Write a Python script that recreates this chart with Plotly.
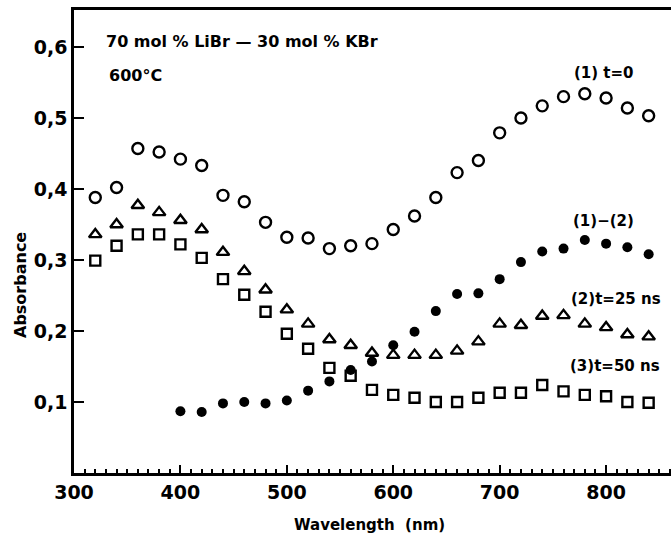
import plotly.graph_objects as go

wavelength = [320, 340, 360, 380, 400, 420, 440, 460, 480, 500, 520, 540, 560, 580,
              600, 620, 640, 660, 680, 700, 720, 740, 760, 780, 800, 820, 840]
t0 = [0.388, 0.402, 0.457, 0.452, 0.442, 0.433, 0.391, 0.382, 0.353, 0.332, 0.331, 0.316,
      0.320, 0.323, 0.343, 0.362, 0.388, 0.423, 0.440, 0.479, 0.500, 0.517, 0.530, 0.534,
      0.528, 0.514, 0.503]
t25 = [0.336, 0.350, 0.377, 0.367, 0.356, 0.343, 0.311, 0.284, 0.258, 0.230, 0.210, 0.188,
       0.180, 0.169, 0.166, 0.166, 0.166, 0.172, 0.185, 0.210, 0.208, 0.221, 0.222, 0.210,
       0.205, 0.195, 0.192]
t50 = [0.299, 0.320, 0.336, 0.336, 0.322, 0.303, 0.273, 0.251, 0.227, 0.196, 0.175, 0.148,
       0.137, 0.117, 0.110, 0.106, 0.100, 0.100, 0.106, 0.113, 0.113, 0.124, 0.115, 0.110,
       0.108, 0.100, 0.099]
diff_wl = [400, 420, 440, 460, 480, 500, 520, 540, 560, 580, 600, 620, 640, 660, 680, 700,
           720, 740, 760, 780, 800, 820, 840]
diff = [0.087, 0.086, 0.098, 0.100, 0.098, 0.102, 0.116, 0.129, 0.145, 0.157, 0.180, 0.199,
        0.228, 0.252, 0.253, 0.273, 0.297, 0.312, 0.316, 0.328, 0.323, 0.318, 0.308]

x_ticks = [300, 400, 500, 600, 700, 800]
y_ticks = [0.1, 0.2, 0.3, 0.4, 0.5, 0.6]

FONT = "DejaVu Sans"
W, H = 671, 541
L, R, T, B = 74, 0, 10, 68
PW, PH = W - L - R, H - T - B


def px(x):
    return (x - L) / PW


def py(y):
    return 1 - (y - T) / PH


fig = go.Figure()
fig.add_trace(go.Scatter(x=wavelength, y=t0, mode="markers",
                         marker=dict(symbol="circle-open", size=11, color="black",
                                     line=dict(width=2.4, color="black"))))
fig.add_trace(go.Scatter(x=wavelength, y=t25, mode="markers",
                         marker=dict(symbol="triangle-up-open", size=11, color="black",
                                     line=dict(width=2.4, color="black"))))
fig.add_trace(go.Scatter(x=wavelength, y=t50, mode="markers",
                         marker=dict(symbol="square-open", size=10, color="black",
                                     line=dict(width=2.4, color="black"))))
fig.add_trace(go.Scatter(x=diff_wl, y=diff, mode="markers",
                         marker=dict(symbol="circle", size=10, color="black")))

annots = [
    dict(x=104, y=42, text="70 mol % LiBr — 30 mol % KBr", size=16),
    dict(x=107, y=76, text="600°C", size=16),
    dict(x=572, y=73, text="(1) t=0", size=15),
    dict(x=571, y=221, text="(1)−(2)", size=15),
    dict(x=569, y=299, text="(2)t=25 ns", size=15),
    dict(x=568, y=366, text="(3)t=50 ns", size=15),
]
for a in annots:
    fig.add_annotation(x=px(a["x"]), y=py(a["y"]), xref="paper", yref="paper",
                       text=a["text"], showarrow=False, xanchor="left", yanchor="middle",
                       font=dict(family=FONT, size=a["size"], color="black", weight="bold"))

fig.add_annotation(x=px(369), y=py(525), xref="paper", yref="paper", text="Wavelength  (nm)",
                   showarrow=False, xanchor="center", yanchor="middle",
                   font=dict(family=FONT, size=15, color="black", weight="bold"))
fig.add_annotation(x=px(20), y=py(285), xref="paper", yref="paper", text="Absorbance",
                   showarrow=False, xanchor="center", yanchor="middle", textangle=-90,
                   font=dict(family=FONT, size=16, color="black", weight="bold"))

fig.update_layout(
    width=W, height=H, showlegend=False,
    paper_bgcolor="white", plot_bgcolor="white",
    separators=",.",
    margin=dict(l=L, r=R, t=T, b=B),
    font=dict(family=FONT, size=16, color="black"),
)
fig.update_xaxes(range=[300, 861], tickvals=x_ticks, ticks="inside", ticklen=8, tickwidth=2,
                 tickcolor="black", showline=True, linewidth=2.5, linecolor="black",
                 mirror=True, showgrid=False, zeroline=False,
                 minor=dict(dtick=10, ticks="inside", ticklen=4, tickwidth=1.5, tickcolor="black"),
                 tickfont=dict(size=19, weight="bold"))
fig.update_yaxes(range=[0.0, 0.652], tickvals=y_ticks, tickformat=".1f", ticks="inside",
                 ticklen=10, tickwidth=2, tickcolor="black", showline=True, linewidth=2.5,
                 linecolor="black", showgrid=False, zeroline=False,
                 tickfont=dict(size=19, weight="bold"))
fig.write_html("out.html", config={"displayModeBar": False},
               post_script="document.body.style.margin='0';document.body.style.overflow='hidden';")
